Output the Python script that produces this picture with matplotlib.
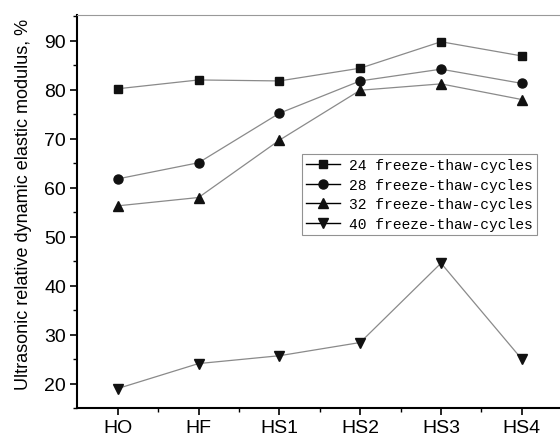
import matplotlib
matplotlib.use("Agg")
import matplotlib.pyplot as plt
from matplotlib.lines import Line2D
from matplotlib.ticker import MultipleLocator

# data
categories = ["HO", "HF", "HS1", "HS2", "HS3", "HS4"]
cycles_24 = [80.2, 82.0, 81.8, 84.4, 89.8, 86.9]
cycles_28 = [61.8, 65.1, 75.2, 81.8, 84.2, 81.3]
cycles_32 = [56.3, 58.0, 69.7, 79.9, 81.2, 78.0]
cycles_40 = [19.0, 24.1, 25.7, 28.4, 44.6, 25.0]
series_labels = ["24 freeze-thaw-cycles", "28 freeze-thaw-cycles",
                 "32 freeze-thaw-cycles", "40 freeze-thaw-cycles"]

plt.rcParams['font.family'] = ['Liberation Sans', 'DejaVu Sans']

fig = plt.figure(figsize=(5.6, 4.39), dpi=100)
ax = fig.add_axes([0.138, 0.068, 0.866, 0.896])

x = range(len(categories))
styles = [("s", 6), ("o", 6.5), ("^", 7.5), ("v", 7.5)]
handles = []
for vals, (m, ms), lab in zip([cycles_24, cycles_28, cycles_32, cycles_40], styles, series_labels):
    ax.plot(x, vals, color="#8a8a8a", lw=0.9, marker=m, ms=ms,
            mfc="#111111", mec="#111111")
    # legend entry drawn in black like the reference
    handles.append(Line2D([], [], color="black", lw=1.0, marker=m, ms=ms,
                          mfc="#111111", mec="#111111", label=lab))

ax.set_xlim(-0.5, 5.5)
ax.set_ylim(15, 95.3)
ax.set_xticks(list(x))
ax.set_xticklabels(categories)
ax.set_xticks([i + 0.5 for i in x], minor=True)
ax.yaxis.set_minor_locator(MultipleLocator(5))
ax.set_yticks(range(20, 91, 10))
ax.tick_params(which="major", direction="out", length=5, width=1.2, labelsize=14, colors="black", pad=3)
ax.tick_params(which="minor", direction="out", length=3, width=1.0)

ax.spines["left"].set_linewidth(1.5)
ax.spines["bottom"].set_linewidth(1.5)
ax.spines["top"].set_linewidth(0.8)
ax.spines["top"].set_color("#999999")
ax.spines["right"].set_visible(False)

ax.set_ylabel("Ultrasonic relative dynamic elastic modulus, %", fontsize=13)
ax.yaxis.set_label_coords(-0.093, 0.52)

leg = fig.legend(handles=handles, loc="upper left", bbox_to_anchor=(0.539, 0.647),
                 prop={"family": "Liberation Mono", "size": 10.5}, frameon=True,
                 fancybox=False, borderaxespad=0, handlelength=2.3, handletextpad=0.6,
                 labelspacing=0.38, borderpad=0.3)
leg.get_frame().set_edgecolor("#777777")
leg.get_frame().set_linewidth(0.8)

fig.savefig("out.png", dpi=100)
